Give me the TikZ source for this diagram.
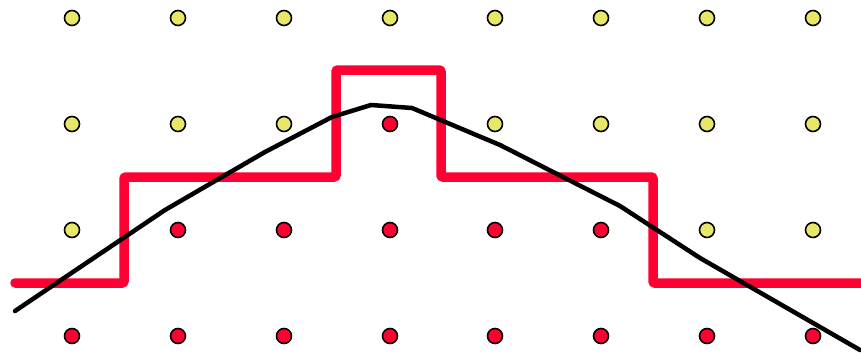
\documentclass[tikz,border=0pt]{standalone}
\usepackage{color}
\usepackage{tikz}
\definecolor{dotyellow}{RGB}{232,232,104}
\definecolor{stepred}{RGB}{255,0,51}
\begin{document}
\begin{tikzpicture}[x=1pt,y=1pt]
\useasboundingbox (0,0) rectangle (861,360);
% objects at depth 60:
\path[draw=black,line width=1.6pt,fill=dotyellow] (72,342) circle (7.5);
\path[draw=black,line width=1.6pt,fill=dotyellow] (178,342) circle (7.5);
\path[draw=black,line width=1.6pt,fill=dotyellow] (284,342) circle (7.5);
\path[draw=black,line width=1.6pt,fill=dotyellow] (390,342) circle (7.5);
\path[draw=black,line width=1.6pt,fill=dotyellow] (495,342) circle (7.5);
\path[draw=black,line width=1.6pt,fill=dotyellow] (601,342) circle (7.5);
\path[draw=black,line width=1.6pt,fill=dotyellow] (707,342) circle (7.5);
\path[draw=black,line width=1.6pt,fill=dotyellow] (813,342) circle (7.5);
\path[draw=black,line width=1.6pt,fill=dotyellow] (72,236) circle (7.5);
\path[draw=black,line width=1.6pt,fill=dotyellow] (178,236) circle (7.5);
\path[draw=black,line width=1.6pt,fill=dotyellow] (284,236) circle (7.5);
\path[draw=black,line width=1.6pt,fill=stepred] (390,236) circle (7.5);
\path[draw=black,line width=1.6pt,fill=dotyellow] (495,236) circle (7.5);
\path[draw=black,line width=1.6pt,fill=dotyellow] (601,236) circle (7.5);
\path[draw=black,line width=1.6pt,fill=dotyellow] (707,236) circle (7.5);
\path[draw=black,line width=1.6pt,fill=dotyellow] (813,236) circle (7.5);
\path[draw=black,line width=1.6pt,fill=dotyellow] (72,130) circle (7.5);
\path[draw=black,line width=1.6pt,fill=stepred] (178,130) circle (7.5);
\path[draw=black,line width=1.6pt,fill=stepred] (284,130) circle (7.5);
\path[draw=black,line width=1.6pt,fill=stepred] (390,130) circle (7.5);
\path[draw=black,line width=1.6pt,fill=stepred] (495,130) circle (7.5);
\path[draw=black,line width=1.6pt,fill=stepred] (601,130) circle (7.5);
\path[draw=black,line width=1.6pt,fill=dotyellow] (707,130) circle (7.5);
\path[draw=black,line width=1.6pt,fill=dotyellow] (813,130) circle (7.5);
\path[draw=black,line width=1.6pt,fill=stepred] (72,24) circle (7.5);
\path[draw=black,line width=1.6pt,fill=stepred] (178,24) circle (7.5);
\path[draw=black,line width=1.6pt,fill=stepred] (284,24) circle (7.5);
\path[draw=black,line width=1.6pt,fill=stepred] (390,24) circle (7.5);
\path[draw=black,line width=1.6pt,fill=stepred] (495,24) circle (7.5);
\path[draw=black,line width=1.6pt,fill=stepred] (601,24) circle (7.5);
\path[draw=black,line width=1.6pt,fill=stepred] (707,24) circle (7.5);
\path[draw=black,line width=1.6pt,fill=stepred] (813,24) circle (7.5);
% objects at depth 50:
\path[draw=stepred,line width=9.5pt,line cap=round,rounded corners=2pt] (15,77) -- (124,77) -- (124,183) -- (336,183) -- (336,290) -- (441,290) -- (441,183) -- (653,183) -- (653,77) -- (866,77);
% objects at depth 40:
\path[draw=black,line width=4.5pt,line cap=round] (15,49) -- (165,150) -- (265,208) -- (332,243) -- (371,255) -- (412,252) -- (500,215) -- (620,154) -- (700,102) -- (860,10);
\end{tikzpicture}
\end{document}
